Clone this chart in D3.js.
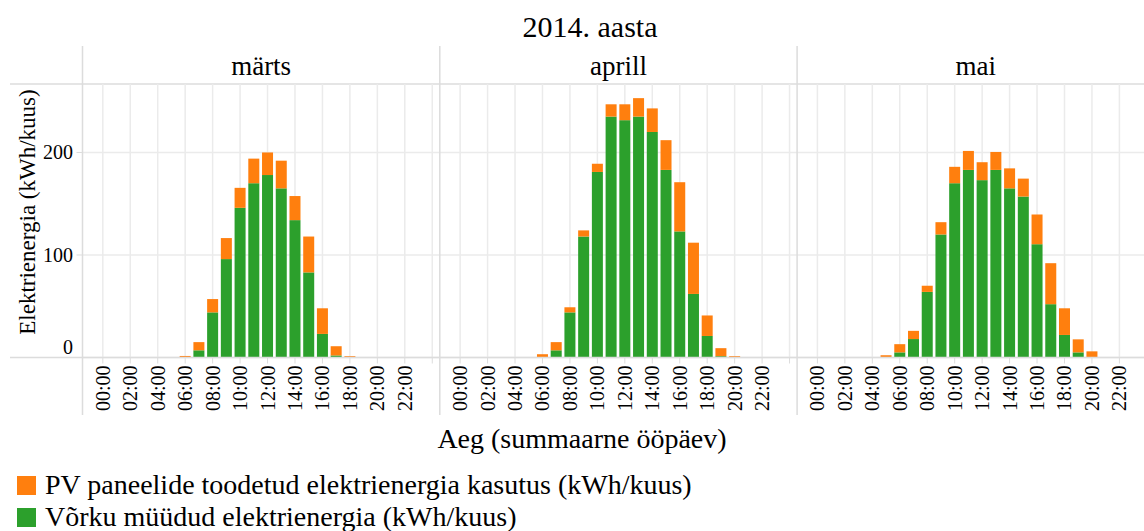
<!DOCTYPE html>
<html>
<head>
<meta charset="utf-8">
<script src="https://cdn.jsdelivr.net/npm/d3@7"></script>
<style>
  html, body { margin: 0; padding: 0; background: #fff; }
  svg { display: block; font-family: "Liberation Serif", "Times New Roman", serif; }
</style>
</head>
<body>
<svg id="chart" width="1144" height="531"></svg>
<script>
// ---- data ----
const title = "2014. aasta";
const months = ["märts", "aprill", "mai"];
const hours = d3.range(0, 24);
const tickLabels = ["00:00","02:00","04:00","06:00","08:00","10:00","12:00","14:00","16:00","18:00","20:00","22:00"];
const yTicks = [0, 100, 200];
const seriesNames = ["PV paneelide toodetud elektrienergia kasutus (kWh/kuus)", "Võrku müüdud elektrienergia (kWh/kuus)"];
const seriesColors = ["#ff7f0e", "#2ca02c"];

// grid-sold energy (green), per hour 0..23
const gridMarts  = [0,0,0,0,0,0,0,7,44,96,146,170,178,165,134,83,23,2,0,0,0,0,0,0];
const gridAprill = [0,0,0,0,0,0,0,7,44,118,181,235,231.5,235,220,183,123,62,21,1.3,0,0,0,0];
const gridMai    = [0,0,0,0,0,0,5,18,64,120,170,183,173,183,165,157,110.5,52,22,5,0,0,0,0];
// PV self-use (orange), per hour 0..23
const pvMarts  = [0,0,0,0,0,0,1.5,8,13,20.5,19.5,24,22,27,23.5,35,25,9,1.3,0,0,0,0,0];
const pvAprill = [0,0,0,0,0,0,3.2,8,5,6,8,12,15.5,18,23,29,48,50,20,7.8,1.3,0,0,0];
const pvMai    = [0,0,0,0,0,2.2,8,8,6,12,16,18.5,17.5,17.5,19.5,17.5,29,40,26,12.7,6,0,0,0];

const gridByMonth = [gridMarts, gridAprill, gridMai];
const pvByMonth = [pvMarts, pvAprill, pvMai];

// ---- layout ----
const svg = d3.select("#chart");
const panelLeft0 = 82.5, panelW = 357.3;
const plotTop = 84, plotBottom = 357.5;
const gridColor = "#ebebeb", lineColor = "#dcdcdc";

const y = d3.scaleLinear().domain([0, 266.8]).range([plotBottom, plotTop]);

// title
svg.append("text").attr("x", 590).attr("y", 37).attr("text-anchor", "middle")
  .attr("font-size", 30).attr("fill", "#000").text(title);

// header line
svg.append("line").attr("x1", 10).attr("x2", 1144).attr("y1", plotTop).attr("y2", plotTop)
  .attr("stroke", lineColor).attr("stroke-width", 1.5);

months.forEach((m, i) => {
  const left = panelLeft0 + i * panelW;
  const x = d3.scaleLinear().domain([-1.48, 24.55]).range([left, left + panelW]);
  const g = svg.append("g");

  const gridHours = d3.range(0, 25, 2);
  g.selectAll(".vg").data(gridHours).join("line")
    .attr("x1", d => x(d)).attr("x2", d => x(d))
    .attr("y1", plotTop).attr("y2", plotBottom)
    .attr("stroke", gridColor).attr("stroke-width", 1.5);
  g.selectAll(".hg").data(yTicks).join("line")
    .attr("x1", left).attr("x2", left + panelW)
    .attr("y1", d => y(d)).attr("y2", d => y(d))
    .attr("stroke", gridColor).attr("stroke-width", 1.5);

  // bars (stacked: green bottom, orange top)
  const rows = hours.map((h, k) => ({ hour: h, grid: gridByMonth[i][k], pv: pvByMonth[i][k] }));
  const stack = d3.stack().keys(["grid", "pv"])(rows);
  const colorOf = { grid: seriesColors[1], pv: seriesColors[0] };
  const bw = 11;
  stack.forEach(layer => {
    g.selectAll(null).data(layer).join("rect")
      .attr("x", d => x(d.data.hour) - bw / 2)
      .attr("width", bw)
      .attr("y", d => y(d[1]))
      .attr("height", d => Math.max(0, y(d[0]) - y(d[1])))
      .attr("fill", colorOf[layer.key]);
  });

  // x axis ticks + labels
  g.selectAll(".xt").data(gridHours).join("line")
    .attr("x1", d => x(d)).attr("x2", d => x(d))
    .attr("y1", plotBottom).attr("y2", plotBottom + 6)
    .attr("stroke", lineColor).attr("stroke-width", 1);
  g.selectAll(".xl").data(tickLabels).join("text")
    .attr("transform", (d, k) => `translate(${x(k * 2)},${plotBottom + 8}) rotate(-90)`)
    .attr("text-anchor", "end").attr("dy", "0.35em")
    .attr("font-size", 20).attr("fill", "#000").text(d => d);

  // header label
  svg.append("text").attr("x", left + panelW / 2).attr("y", 75).attr("text-anchor", "middle")
    .attr("font-size", 27).attr("fill", "#000").text(m);

  // panel divider
  svg.append("line").attr("x1", left).attr("x2", left).attr("y1", 46).attr("y2", 415)
    .attr("stroke", lineColor).attr("stroke-width", 1.5);
});

// baseline
svg.append("line").attr("x1", 10).attr("x2", 1144).attr("y1", plotBottom).attr("y2", plotBottom)
  .attr("stroke", lineColor).attr("stroke-width", 1.5);

// y axis ticks + labels (bottom label flush upward)
const ya = svg.append("g");
ya.selectAll("line").data(yTicks).join("line")
  .attr("x1", panelLeft0 - 6).attr("x2", panelLeft0)
  .attr("y1", d => y(d)).attr("y2", d => y(d))
  .attr("stroke", lineColor).attr("stroke-width", 1);
ya.selectAll("text").data(yTicks).join("text")
  .attr("x", 73).attr("y", d => y(d))
  .attr("dy", d => d === 0 ? "-0.2em" : "0.35em")
  .attr("text-anchor", "end")
  .attr("font-size", 20).attr("fill", "#000").text(d => d);

// axis titles
svg.append("text").attr("transform", "translate(35,212) rotate(-90)").attr("text-anchor", "middle")
  .attr("font-size", 23).attr("fill", "#000").text("Elektrienergia (kWh/kuus)");
svg.append("text").attr("x", 582).attr("y", 448).attr("text-anchor", "middle")
  .attr("font-size", 28).attr("fill", "#000").text("Aeg (summaarne ööpäev)");

// legend
const leg = svg.append("g");
seriesNames.forEach((name, k) => {
  const yy = 476 + k * 32;
  leg.append("rect").attr("x", 17).attr("y", yy).attr("width", 19).attr("height", 19).attr("fill", seriesColors[k]);
  leg.append("text").attr("x", 45).attr("y", yy + 18).attr("font-size", 28).attr("fill", "#000").text(name);
});
</script>
</body>
</html>
